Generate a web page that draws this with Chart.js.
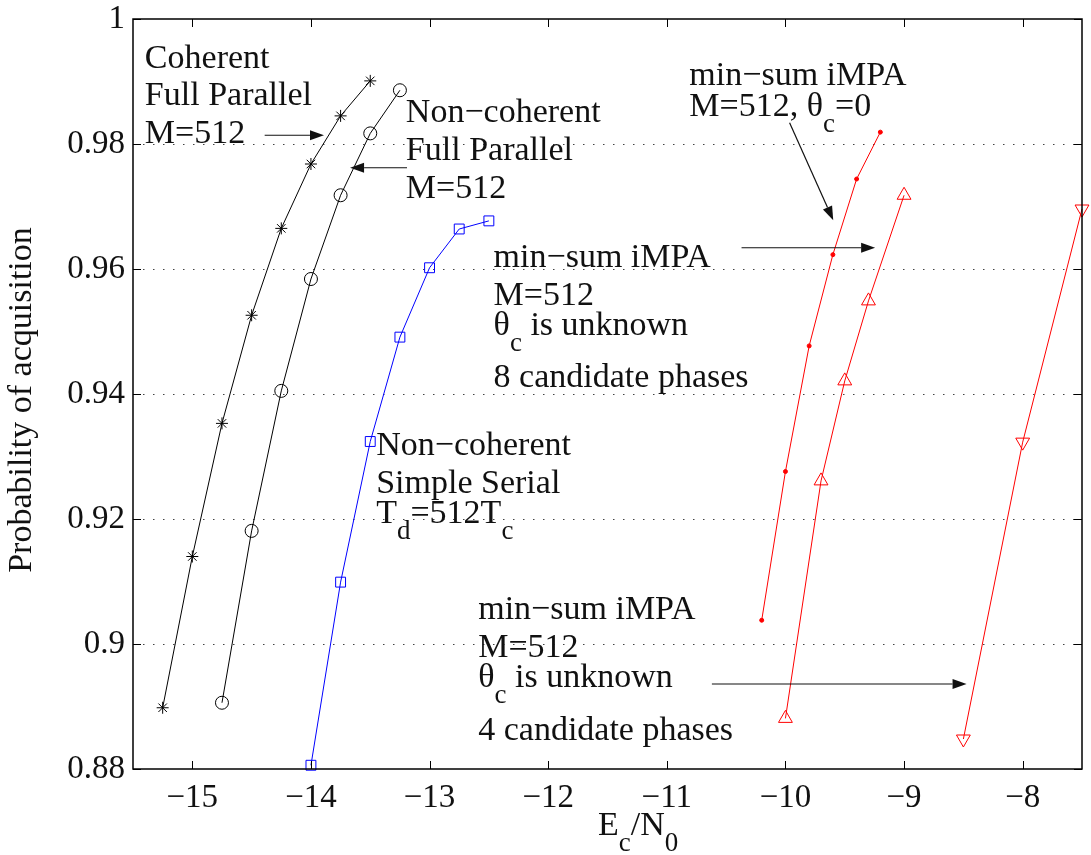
<!DOCTYPE html>
<html>
<head>
<meta charset="UTF-8">
<title>Probability of acquisition</title>
<script src="https://cdn.jsdelivr.net/npm/chart.js"></script>
<style>
  body { margin: 0; background: #fff; }
  canvas { display: block; }
</style>
</head>
<body>
<canvas id="acqChart" width="1091" height="855"></canvas>
<script>
  // axis ticks
  const xTicks = [-15, -14, -13, -12, -11, -10, -9, -8];
  const yTicks = [0.88, 0.9, 0.92, 0.94, 0.96, 0.98, 1];

  // Coherent full parallel, M=512
  const coherentX = [-15.25, -15, -14.75, -14.5, -14.25, -14, -13.75, -13.5];
  const coherentY = [0.8898, 0.9140, 0.9353, 0.9526, 0.9665, 0.9768, 0.9845, 0.9901];

  // Non-coherent full parallel, M=512
  const parallelX = [-14.75, -14.5, -14.25, -14, -13.75, -13.5, -13.25];
  const parallelY = [0.8906, 0.9181, 0.9405, 0.9584, 0.9718, 0.9817, 0.9886];

  // Non-coherent simple serial, Td=512Tc
  const serialX = [-14, -13.75, -13.5, -13.25, -13, -12.75, -12.5];
  const serialY = [0.8806, 0.9099, 0.9324, 0.9491, 0.9602, 0.9664, 0.9677];

  // min-sum iMPA, theta_c = 0
  const knownX = [-10.2, -10, -9.8, -9.6, -9.4, -9.2];
  const knownY = [0.9038, 0.9276, 0.9477, 0.9623, 0.9744, 0.9819];

  // min-sum iMPA, theta_c unknown, 8 candidate phases
  const cand8X = [-10, -9.7, -9.5, -9.3, -9];
  const cand8Y = [0.8881, 0.9261, 0.9421, 0.9549, 0.9718];

  // min-sum iMPA, theta_c unknown, 4 candidate phases
  const cand4X = [-8.5, -8, -7.5];
  const cand4Y = [0.8848, 0.9323, 0.9696];

  const FONT = '"Liberation Serif", "Times New Roman", serif';
  const TXT = 34;

  // text labels placed in data units; {s: ...} is a subscript
  const notes = [
    { x: -15.40, y: 0.9922, parts: ['Coherent'] },
    { x: -15.40, y: 0.9862, parts: ['Full Parallel'] },
    { x: -15.40, y: 0.9802, parts: ['M=512'] },
    { x: -13.20, y: 0.9835, parts: ['Non\u2212coherent'] },
    { x: -13.20, y: 0.9774, parts: ['Full Parallel'] },
    { x: -13.20, y: 0.9714, parts: ['M=512'] },
    { x: -10.81, y: 0.9894, parts: ['min\u2212sum iMPA'] },
    { x: -10.81, y: 0.9845, parts: ['M=512, \u03b8', { s: 'c' }, '=0'] },
    { x: -12.46, y: 0.9603, parts: ['min\u2212sum iMPA'] },
    { x: -12.46, y: 0.9542, parts: ['M=512'] },
    { x: -12.46, y: 0.9494, parts: ['\u03b8', { s: 'c' }, ' is unknown'] },
    { x: -12.46, y: 0.9411, parts: ['8 candidate phases'] },
    { x: -13.45, y: 0.9302, parts: ['Non\u2212coherent'] },
    { x: -13.45, y: 0.9242, parts: ['Simple Serial'] },
    { x: -13.45, y: 0.9194, parts: ['T', { s: 'd' }, '=512T', { s: 'c' }] },
    { x: -12.59, y: 0.9040, parts: ['min\u2212sum iMPA'] },
    { x: -12.59, y: 0.8979, parts: ['M=512'] },
    { x: -12.59, y: 0.8931, parts: ['\u03b8', { s: 'c' }, ' is unknown'] },
    { x: -12.59, y: 0.8846, parts: ['4 candidate phases'] }
  ];

  const arrows = [
    { from: [-14.39, 0.9814], to: [-13.89, 0.9814] },
    { from: [-13.19, 0.9762], to: [-13.67, 0.9762] },
    { from: [-9.965, 0.9834], to: [-9.597, 0.9678] },
    { from: [-10.37, 0.9634], to: [-9.244, 0.9634] },
    { from: [-10.62, 0.8936], to: [-8.473, 0.8936] }
  ];

  function pts(xs, ys) {
    return xs.map((x, i) => ({ x: x, y: ys[i] }));
  }

  function drawRich(ctx, x, y, parts, size) {
    let cx = x;
    parts.forEach(p => {
      const sub = typeof p !== 'string';
      const t = sub ? p.s : p;
      ctx.font = (sub ? Math.round(size * 0.8) : size) + 'px ' + FONT;
      ctx.fillText(t, cx, sub ? y + size * 0.47 : y);
      cx += ctx.measureText(t).width;
    });
  }

  function drawArrow(ctx, x1, y1, x2, y2) {
    const a = Math.atan2(y2 - y1, x2 - x1);
    const L = 14, W = 5;
    const bx = x2 - L * Math.cos(a), by = y2 - L * Math.sin(a);
    ctx.beginPath();
    ctx.moveTo(x1, y1);
    ctx.lineTo(bx, by);
    ctx.stroke();
    ctx.beginPath();
    ctx.moveTo(x2, y2);
    ctx.lineTo(bx + W * Math.sin(a), by - W * Math.cos(a));
    ctx.lineTo(bx - W * Math.sin(a), by + W * Math.cos(a));
    ctx.closePath();
    ctx.fill();
  }

  const framePlugin = {
    id: 'frame',
    beforeDatasetsDraw(chart) {
      const { ctx, chartArea: a, scales } = chart;
      ctx.save();
      ctx.strokeStyle = '#444';
      ctx.lineWidth = 1;
      ctx.setLineDash([1.5, 8.5]);
      yTicks.slice(1, -1).forEach(v => {
        const y = Math.round(scales.y.getPixelForValue(v)) + 0.5;
        ctx.beginPath();
        ctx.moveTo(a.left, y);
        ctx.lineTo(a.right, y);
        ctx.stroke();
      });
      ctx.restore();
    },
    afterDraw(chart) {
      const { ctx, chartArea: a, scales } = chart;
      ctx.save();
      ctx.strokeStyle = '#000';
      ctx.lineWidth = 1.5;
      ctx.strokeRect(a.left, a.top, a.right - a.left, a.bottom - a.top);
      ctx.lineWidth = 1;
      const tl = 8;
      ctx.beginPath();
      xTicks.forEach(v => {
        const x = Math.round(scales.x.getPixelForValue(v)) + 0.5;
        ctx.moveTo(x, a.bottom); ctx.lineTo(x, a.bottom - tl);
        ctx.moveTo(x, a.top); ctx.lineTo(x, a.top + tl);
      });
      yTicks.forEach(v => {
        const y = Math.round(scales.y.getPixelForValue(v)) + 0.5;
        ctx.moveTo(a.left, y); ctx.lineTo(a.left + tl, y);
        ctx.moveTo(a.right, y); ctx.lineTo(a.right - tl, y);
      });
      ctx.stroke();

      // annotations
      ctx.fillStyle = '#111';
      ctx.textAlign = 'left';
      ctx.textBaseline = 'alphabetic';
      notes.forEach(n => {
        drawRich(ctx, scales.x.getPixelForValue(n.x), scales.y.getPixelForValue(n.y), n.parts, TXT);
      });
      ctx.strokeStyle = '#111';
      ctx.fillStyle = '#111';
      ctx.lineWidth = 1.2;
      arrows.forEach(r => {
        drawArrow(ctx,
          scales.x.getPixelForValue(r.from[0]), scales.y.getPixelForValue(r.from[1]),
          scales.x.getPixelForValue(r.to[0]), scales.y.getPixelForValue(r.to[1]));
      });

      // axis titles
      ctx.fillStyle = '#111';
      drawRich(ctx, a.left + 465, a.bottom + 66, ['E', { s: 'c' }, '/N', { s: '0' }], TXT);
      ctx.translate(22, (a.top + a.bottom) / 2 + 6);
      ctx.rotate(-Math.PI / 2);
      ctx.textAlign = 'center';
      ctx.textBaseline = 'middle';
      ctx.font = TXT + 'px ' + FONT;
      ctx.fillText('Probability of acquisition', 0, 0);
      ctx.restore();
    }
  };

  const line = (data, color, style, radius, extra) => Object.assign({
    data: data,
    borderColor: color,
    backgroundColor: 'rgba(0,0,0,0)',
    borderWidth: 1,
    pointStyle: style,
    pointRadius: radius,
    pointBorderColor: color,
    pointBackgroundColor: 'rgba(0,0,0,0)',
    pointBorderWidth: 1,
    showLine: true,
    clip: false
  }, extra || {});

  new Chart(document.getElementById('acqChart'), {
    type: 'scatter',
    data: {
      datasets: [
        line(pts(coherentX, coherentY), '#000', 'star', 6),
        line(pts(parallelX, parallelY), '#000', 'circle', 6.5),
        line(pts(serialX, serialY), '#0000ff', 'rect', 7),
        line(pts(knownX, knownY), '#ff0000', 'circle', 2, { pointBackgroundColor: '#ff0000' }),
        line(pts(cand8X, cand8Y), '#ff0000', 'triangle', 8),
        line(pts(cand4X, cand4Y), '#ff0000', 'triangle', 8, { pointRotation: 180 })
      ]
    },
    options: {
      responsive: false,
      animation: false,
      layout: { padding: { left: 0, right: 4, top: 19, bottom: 0 } },
      plugins: { legend: { display: false }, tooltip: { enabled: false } },
      scales: {
        x: {
          type: 'linear',
          min: -15.5,
          max: -7.5,
          afterBuildTicks: s => { s.ticks = xTicks.map(v => ({ value: v })); },
          afterFit: s => { s.height = 86; s.paddingLeft = 0; s.paddingRight = 0; },
          grid: { display: false, drawTicks: false },
          border: { display: false },
          ticks: {
            color: '#111',
            font: { family: FONT, size: 33 },
            padding: 10,
            maxRotation: 0,
            callback: v => (v < 0 ? '\u2212' : '') + Math.abs(v)
          }
        },
        y: {
          type: 'linear',
          min: 0.88,
          max: 1,
          afterBuildTicks: s => { s.ticks = yTicks.map(v => ({ value: v })); },
          afterFit: s => { s.width = 133; s.paddingTop = 0; s.paddingBottom = 0; },
          grid: { display: false, drawTicks: false },
          border: { display: false },
          ticks: {
            color: '#111',
            font: { family: FONT, size: 33 },
            padding: 8,
            callback: v => String(+v.toFixed(2))
          }
        }
      }
    },
    plugins: [framePlugin]
  });
</script>
</body>
</html>
